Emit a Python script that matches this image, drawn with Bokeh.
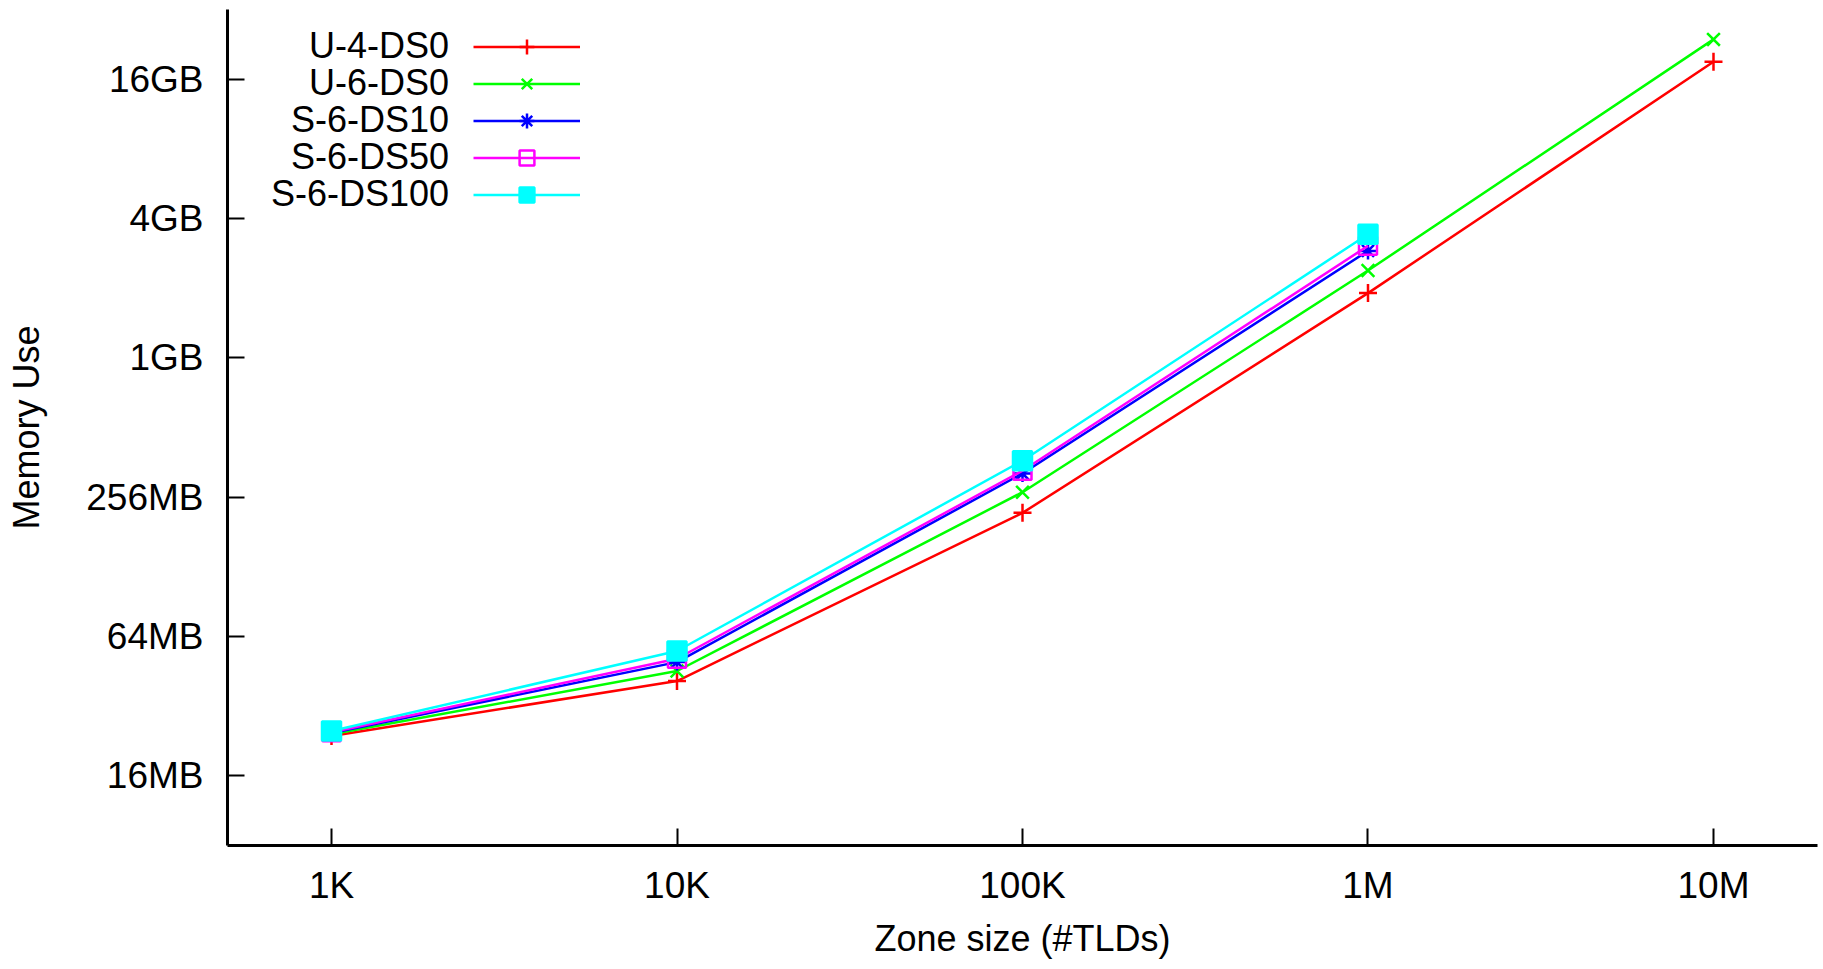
from bokeh.plotting import figure
from bokeh.models import Range1d, FixedTicker, Label, Legend, LegendItem
from bokeh.embed import file_html
from bokeh.resources import INLINE

# ---- data ----
zone_sizes = [1000, 10000, 100000, 1000000, 10000000]
x_tick_labels = ["1K", "10K", "100K", "1M", "10M"]
y_ticks = [16, 64, 256, 1024, 4096, 16384]
y_tick_labels = ["16MB", "64MB", "256MB", "1GB", "4GB", "16GB"]

# memory use in MB
u4_ds0 = [23.8, 41.1, 219, 1950, 19490]
u6_ds0 = [24.2, 45.4, 269, 2441, 24340]
s6_ds10 = [24.5, 49.6, 324, 2968]
s6_ds50 = [24.7, 51.3, 333, 3120]
s6_ds100 = [25.0, 55.4, 368, 3504]

series_names = ["U-4-DS0", "U-6-DS0", "S-6-DS10", "S-6-DS50", "S-6-DS100"]
series_values = [u4_ds0, u6_ds0, s6_ds10, s6_ds50, s6_ds100]
series_colors = ["#ff0000", "#00ff00", "#0000ff", "#ff00ff", "#00ffff"]
series_markers = ["cross", "x", "asterisk", "square", "square"]
series_filled = [False, False, False, False, True]
series_sizes = [18, 18, 17, 18, 19]

FONT = "Liberation Sans"

p = figure(width=1823, height=969,
           x_axis_type="log", y_axis_type="log",
           x_range=Range1d(500, 2e7), y_range=Range1d(8, 32768),
           output_backend="svg", toolbar_location=None,
           min_border_left=227, min_border_right=6,
           min_border_top=9, min_border_bottom=124)

p.outline_line_color = None
p.xgrid.visible = False
p.ygrid.visible = False
p.background_fill_color = "white"
p.border_fill_color = "white"

p.xaxis.ticker = FixedTicker(ticks=zone_sizes)
p.xaxis.major_label_overrides = dict(zip(zone_sizes, x_tick_labels))
p.yaxis.ticker = FixedTicker(ticks=y_ticks)
p.yaxis.major_label_overrides = dict(zip(y_ticks, y_tick_labels))

p.xaxis.axis_label = "Zone size (#TLDs)"
p.yaxis.axis_label = "Memory Use"

for ax in (p.xaxis[0], p.yaxis[0]):
    ax.axis_line_width = 3
    ax.axis_line_color = "black"
    ax.major_tick_line_width = 2
    ax.major_tick_line_color = "black"
    ax.major_tick_in = 17
    ax.major_tick_out = 0
    ax.minor_tick_line_color = None
    ax.major_label_text_font = FONT
    ax.major_label_text_font_size = "37px"
    ax.major_label_text_color = "black"
    ax.axis_label_text_font = FONT
    ax.axis_label_text_font_size = "36px"
    ax.axis_label_text_font_style = "normal"
    ax.axis_label_text_color = "black"

p.xaxis.major_label_standoff = 19
p.xaxis.axis_label_standoff = 9
p.yaxis.major_label_standoff = 24
p.yaxis.axis_label_standoff = 36

items = []
for name, vals, col, mk, filled, sz in zip(series_names, series_values, series_colors,
                                            series_markers, series_filled, series_sizes):
    xs = zone_sizes[:len(vals)]
    ln = p.line(xs, vals, line_color=col, line_width=2.5)
    sc = p.scatter(xs, vals, marker=mk, size=sz, line_color=col, line_width=2.5,
                   fill_color=col if filled else None)
    items.append(LegendItem(label=" ", renderers=[ln, sc]))

row_h = 37
legend = Legend(items=items, location=(246, 632.5), glyph_width=107, glyph_height=row_h,
                spacing=0, padding=0, margin=0, border_line_color=None,
                background_fill_alpha=0, label_text_font_size="1px",
                label_standoff=0, label_width=1, label_height=1)
p.add_layout(legend)

for i, name in enumerate(series_names):
    p.add_layout(Label(x=221.5, y=800.5 - i * row_h, x_units="screen", y_units="screen",
                       text=name, text_align="right", text_baseline="middle",
                       text_font=FONT, text_font_size="36px", text_color="black"))

open("out.html", "w").write(file_html(p, INLINE))
